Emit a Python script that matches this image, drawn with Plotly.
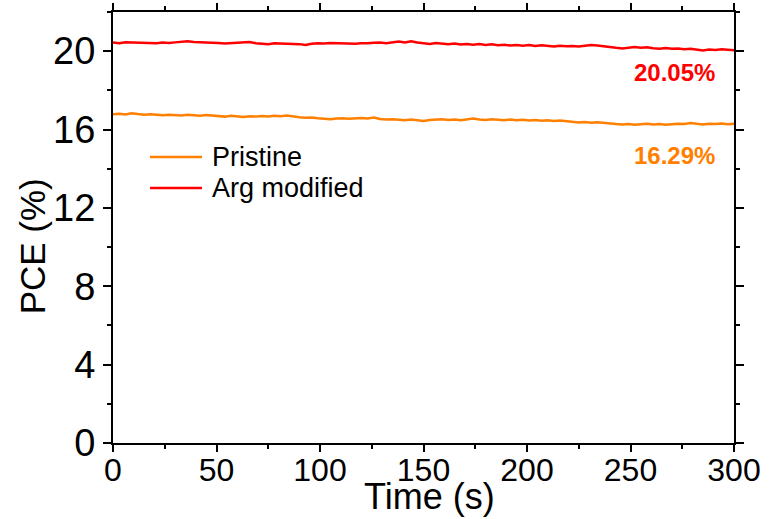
import numpy as np
import plotly.graph_objects as go

time_s = list(range(0, 301, 3))

arg_modified = [
    20.44, 20.40, 20.46, 20.45, 20.42, 20.44, 20.43, 20.41, 20.44, 20.42,
    20.45, 20.47, 20.51, 20.47, 20.46, 20.44, 20.46, 20.42, 20.39, 20.41,
    20.40, 20.43, 20.47, 20.41, 20.40, 20.36, 20.40, 20.39, 20.41, 20.38,
    20.36, 20.32, 20.38, 20.40, 20.39, 20.42, 20.41, 20.40, 20.42, 20.38,
    20.41, 20.40, 20.43, 20.44, 20.40, 20.43, 20.49, 20.45, 20.51, 20.44,
    20.40, 20.37, 20.42, 20.38, 20.36, 20.39, 20.34, 20.37, 20.33, 20.36,
    20.32, 20.35, 20.30, 20.33, 20.29, 20.32, 20.28, 20.31, 20.27, 20.30,
    20.26, 20.24, 20.28, 20.25, 20.27, 20.24, 20.28, 20.31, 20.29, 20.24,
    20.20, 20.17, 20.14, 20.18, 20.21, 20.17, 20.20, 20.15, 20.13, 20.16,
    20.12, 20.14, 20.10, 20.12, 20.08, 20.04, 20.09, 20.06, 20.10, 20.07,
    20.05,
]

pristine = [
    16.78, 16.80, 16.77, 16.83, 16.79, 16.76, 16.78, 16.75, 16.73, 16.76,
    16.74, 16.72, 16.75, 16.73, 16.71, 16.74, 16.72, 16.70, 16.66, 16.70,
    16.67, 16.64, 16.68, 16.66, 16.69, 16.67, 16.70, 16.68, 16.72, 16.66,
    16.63, 16.60, 16.62, 16.58, 16.54, 16.52, 16.56, 16.58, 16.55, 16.57,
    16.59, 16.56, 16.61, 16.54, 16.51, 16.53, 16.49, 16.47, 16.51, 16.48,
    16.44, 16.49, 16.50, 16.52, 16.49, 16.51, 16.48, 16.53, 16.56, 16.51,
    16.49, 16.52, 16.50, 16.47, 16.51, 16.48, 16.50, 16.46, 16.49, 16.45,
    16.47, 16.44, 16.46, 16.42, 16.40, 16.36, 16.38, 16.35, 16.37, 16.33,
    16.31, 16.28, 16.26, 16.28, 16.25, 16.27, 16.29, 16.26, 16.28, 16.25,
    16.27, 16.30, 16.28, 16.33, 16.29, 16.26, 16.30, 16.28, 16.31, 16.27,
    16.29,
]

series_names = ["Pristine", "Arg modified"]
series_colors = ["#FF8000", "#FF0000"]
final_labels = ["16.29%", "20.05%"]
final_label_y = [14.70, 18.89]

FONT = "Arial, Liberation Sans, sans-serif"

fig = go.Figure()
for name, vals, col in zip(series_names, [pristine, arg_modified], series_colors):
    fig.add_trace(go.Scatter(x=time_s, y=vals, mode="lines", name=name,
                             line=dict(color=col, width=2.5), showlegend=False))

for txt, yv, col in zip(final_labels, final_label_y, series_colors):
    fig.add_annotation(x=292, y=yv, xref="x", yref="y", text=txt, showarrow=False,
                       xanchor="right", yanchor="middle",
                       font=dict(family=FONT, size=24, color=col, weight="bold"))

# legend (drawn as sample lines + labels in paper coordinates)
legend_y = [0.6636, 0.5916]
for name, col, ly in zip(series_names, series_colors, legend_y):
    fig.add_shape(type="line", xref="paper", yref="paper", x0=0.0596, x1=0.1433,
                  y0=ly, y1=ly, line=dict(color=col, width=2.5))
    fig.add_annotation(x=0.1562, y=ly, xref="paper", yref="paper", text=name,
                       showarrow=False, xanchor="left", yanchor="middle",
                       font=dict(family=FONT, size=27, color="black"))

# axis titles
fig.add_annotation(x=0.509, y=-0.125, xref="paper", yref="paper", text="Time (s)",
                   showarrow=False, xanchor="center", yanchor="middle",
                   font=dict(family=FONT, size=36, color="black"))
fig.add_annotation(x=-0.129, y=0.456, xref="paper", yref="paper", text="PCE (%)",
                   showarrow=False, xanchor="center", yanchor="middle", textangle=-90,
                   font=dict(family=FONT, size=35, color="black"))

axis_common = dict(showline=True, linecolor="black", linewidth=2, mirror="ticks",
                   ticks="outside", tickwidth=2, tickcolor="black", showgrid=False,
                   zeroline=False)

fig.update_xaxes(range=[0, 300], dtick=50, tick0=0, ticklen=7, ticklabelstandoff=-9,
                 tickfont=dict(family=FONT, size=32, color="black"),
                 minor=dict(dtick=25, ticklen=4, tickwidth=2, tickcolor="black", ticks="outside"),
                 **axis_common)
fig.update_yaxes(range=[0, 22], dtick=4, tick0=0, ticklen=8,
                 tickfont=dict(family=FONT, size=38, color="black"),
                 minor=dict(dtick=2, ticklen=4, tickwidth=2, tickcolor="black", ticks="outside"),
                 **axis_common)

fig.update_layout(
    width=769, height=519,
    margin=dict(l=113, r=35, t=12, b=76, autoexpand=False),
    paper_bgcolor="white", plot_bgcolor="white",
    showlegend=False,
)

fig.write_html("out.html")
